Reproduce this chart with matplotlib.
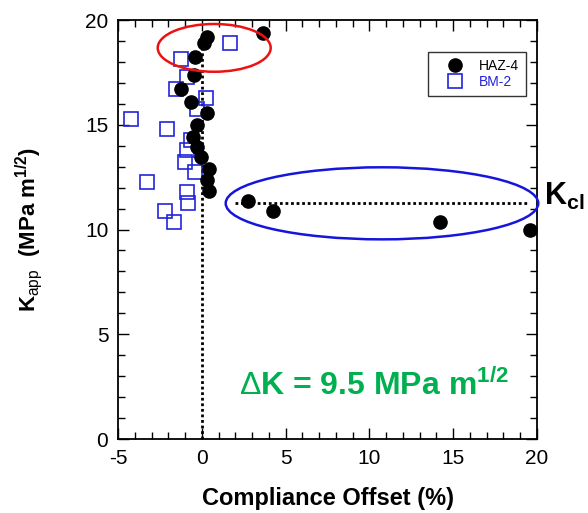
"""
K_app vs compliance offset, HAZ-4 and BM-2
"""

import matplotlib
matplotlib.use('Agg')
import matplotlib.pyplot as plt
from matplotlib.patches import Ellipse

plt.rcParams['font.family'] = ['Liberation Sans', 'DejaVu Sans']
plt.rcParams['mathtext.fontset'] = 'custom'
plt.rcParams['mathtext.rm'] = 'Liberation Sans'
plt.rcParams['mathtext.bf'] = 'Liberation Sans:bold'
plt.rcParams['axes.unicode_minus'] = False

# data
haz_x = [3.67, 0.29, 0.15, -0.41, -0.47, -1.24, -0.66, 0.29, -0.30, -0.54, -0.30, -0.05,
         0.45, 0.29, 0.45, 2.74, 4.27, 14.21, 19.58]
haz_y = [19.36, 19.2, 18.89, 18.25, 17.37, 16.69, 16.1, 15.58, 14.99, 14.43, 13.95, 13.47,
         12.87, 12.36, 11.85, 11.37, 10.88, 10.37, 9.98]

bm_x = [1.68, -1.26, -0.86, -1.54, 0.25, -0.27, -4.24, -2.09, -0.66, -0.9, -1.0, -0.41,
        -3.29, -0.9, -0.84, -2.2, -1.66]
bm_y = [18.89, 18.12, 17.26, 16.69, 16.29, 15.75, 15.27, 14.78, 14.27, 13.79, 13.24, 12.76,
        12.28, 11.8, 11.28, 10.88, 10.37]

kcl_level = 11.28
kcl_x = [2.0, 19.4]
zero_y = [0, 18.6]

fig = plt.figure(figsize=(5.88, 5.13), dpi=100)
ax = fig.add_axes([0.2007, 0.1442, 0.7126, 0.8168])

# guide lines
ax.plot([0, 0], zero_y, color='black', linestyle=(0, (1, 1)), linewidth=2, zorder=1)
ax.plot(kcl_x, [kcl_level, kcl_level], color='black', linestyle=(0, (1, 1)), linewidth=2, zorder=1)

ax.plot(bm_x, bm_y, linestyle='none', marker='s', markersize=9.5, markerfacecolor='none',
        markeredgecolor='#2222dd', markeredgewidth=1.2, label='BM-2', zorder=2)
ax.plot(haz_x, haz_y, linestyle='none', marker='o', markersize=9.5, color='black',
        label='HAZ-4', zorder=3)

# highlight ellipses
ax.add_patch(Ellipse((0.74, 18.67), 6.74, 2.28, fill=False, edgecolor='#ee1111',
                     linewidth=1.8, clip_on=False, zorder=4))
ax.add_patch(Ellipse((10.75, 11.25), 18.65, 3.44, fill=False, edgecolor='#1515dd',
                     linewidth=1.8, clip_on=False, zorder=4))

ax.set_xlim(-5, 20)
ax.set_ylim(0, 20)
ax.set_xticks([-5, 0, 5, 10, 15, 20])
ax.set_yticks([0, 5, 10, 15, 20])
ax.set_xticks(range(-5, 21), minor=True)
ax.set_yticks(range(0, 21), minor=True)
ax.tick_params(which='both', direction='in', top=True, right=True, labelsize=15, width=1)
ax.tick_params(which='major', length=8, pad=7)
ax.tick_params(which='minor', length=5)
for sp in ax.spines.values():
    sp.set_linewidth(1.3)

ax.set_xlabel('Compliance Offset (%)', fontsize=17, fontweight='bold', labelpad=14)
ax.set_ylabel(r'K$_{\rm app}$  (MPa m$^{\mathbf{1/2}}$)', fontsize=16, fontweight='bold',
              labelpad=29)

ax.text(2.22, 2.1, r'$\Delta$K = 9.5 MPa m$^{\mathbf{1/2}}$', color='#00b050', fontsize=23,
        fontweight='bold', ha='left', va='baseline')
fig.text(0.925, 0.600, r'K$_{\mathbf{cl}}$', fontsize=22, fontweight='bold',
         ha='left', va='baseline')

# legend: circle first, then square
handles, labels = ax.get_legend_handles_labels()
leg = ax.legend(handles[::-1], labels[::-1], loc='upper right', bbox_to_anchor=(0.974, 0.924),
                fontsize=10, frameon=True, fancybox=False, edgecolor='black',
                handlelength=3, handletextpad=0.2, labelspacing=0.15, borderpad=0.5,
                borderaxespad=0)
leg.get_frame().set_linewidth(1)
leg.get_texts()[1].set_color('#2222dd')

plt.savefig('out.png', dpi=100)
